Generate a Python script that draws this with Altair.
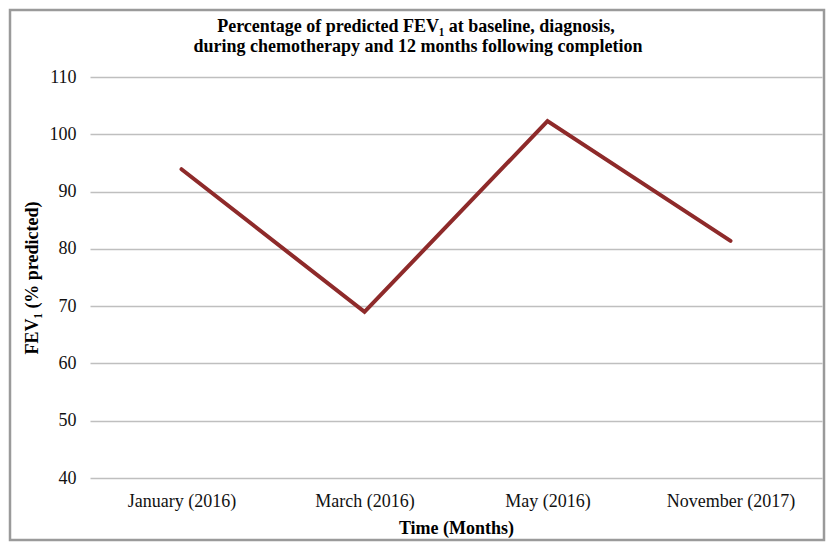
import altair as alt
import pandas as pd

months = ["January (2016)", "March (2016)", "May (2016)", "November (2017)"]
fev1 = [93.9, 69.0, 102.3, 81.4]
y_ticks = [40, 50, 60, 70, 80, 90, 100, 110]
title_lines = ["Percentage of predicted FEV\u2081 at baseline, diagnosis,",
               "during  chemotherapy  and 12 months following  completion"]

df = pd.DataFrame({"month": months, "fev1": fev1})

W, H = 732, 401
PAD_L, PAD_T, PAD_R, PAD_B = 82, 69, 4, 64
SERIF = "Liberation Serif"

line = alt.Chart(df).mark_line(color="#8E2A2A", strokeWidth=4, strokeCap="round").encode(
    x=alt.X("month:N", sort=months, scale=alt.Scale(type="point", padding=0.5),
            axis=alt.Axis(title="Time (Months)", labelAngle=0, ticks=False, domain=False,
                          labelPadding=14, titlePadding=9, grid=False)),
    y=alt.Y("fev1:Q", scale=alt.Scale(domain=[40, 110], nice=False, zero=False),
            axis=alt.Axis(title="FEV\u2081 (% predicted)", values=y_ticks, ticks=False,
                          domain=False, labelPadding=14, titlePadding=8,
                          gridColor="#BFBFBF", gridWidth=1.5)),
)

frame = alt.Chart(pd.DataFrame({"k": [0]})).mark_rect(
    fill=None, stroke="#9A9A9A", strokeWidth=2.5
).encode(
    x=alt.value(-80), x2=alt.value(W + PAD_R - 2),
    y=alt.value(-67), y2=alt.value(H + PAD_B - 2)
)

title1 = alt.Chart(pd.DataFrame({"t": [title_lines[0]]})).mark_text(
    font=SERIF, fontSize=18, fontWeight="bold", color="#000000",
    align="center", baseline="alphabetic"
).encode(text="t:N", x=alt.value(326), y=alt.value(-45))

title2 = alt.Chart(pd.DataFrame({"t": [title_lines[1]]})).mark_text(
    font=SERIF, fontSize=18, fontWeight="bold", color="#000000",
    align="center", baseline="alphabetic"
).encode(text="t:N", x=alt.value(328), y=alt.value(-25))

chart = alt.layer(frame, line, title1, title2).properties(
    width=W, height=H,
    background="white",
    autosize=alt.AutoSizeParams(type="none"),
    padding={"left": PAD_L, "top": PAD_T, "right": PAD_R, "bottom": PAD_B},
).configure_view(stroke=None).configure_axis(
    labelFont=SERIF, titleFont=SERIF,
    labelFontSize=18, titleFontSize=18, labelColor="#111111", titleColor="#000000",
    titleFontWeight="bold",
)

chart.save("out.html", embed_options={"renderer": "svg", "actions": False})
